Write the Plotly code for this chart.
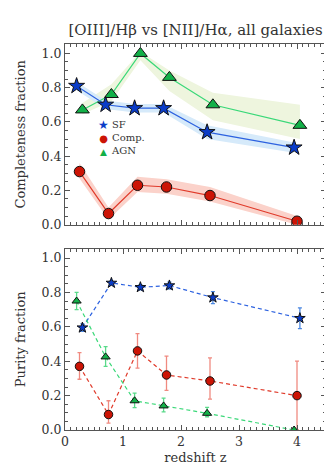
import plotly.graph_objects as go
from plotly.subplots import make_subplots

# ---------------- data ----------------
# Top panel: completeness fraction
z_sf_c = [0.20, 0.70, 1.20, 1.70, 2.45, 3.95]
sf_c = [0.81, 0.70, 0.68, 0.68, 0.54, 0.45]
sf_c_lo = [0.785, 0.675, 0.655, 0.655, 0.50, 0.42]
sf_c_hi = [0.835, 0.725, 0.705, 0.705, 0.58, 0.48]

z_comp_c = [0.25, 0.75, 1.25, 1.75, 2.50, 4.00]
comp_c = [0.31, 0.065, 0.23, 0.22, 0.17, 0.02]
comp_c_lo = [0.27, 0.03, 0.19, 0.18, 0.135, 0.0]
comp_c_hi = [0.36, 0.10, 0.28, 0.265, 0.22, 0.05]

z_agn_c = [0.30, 0.80, 1.30, 1.80, 2.55, 4.05]
agn_c = [0.67, 0.76, 1.00, 0.86, 0.70, 0.58]
agn_c_lo = [0.645, 0.72, 0.96, 0.78, 0.61, 0.50]
agn_c_hi = [0.71, 0.82, 1.01, 0.90, 0.77, 0.70]

# Bottom panel: purity fraction
z_sf_p = [0.30, 0.80, 1.30, 1.80, 2.55, 4.05]
sf_p = [0.595, 0.855, 0.83, 0.84, 0.77, 0.65]
sf_p_err = [0.022, 0.012, 0.015, 0.02, 0.035, 0.06]

z_comp_p = [0.25, 0.75, 1.25, 1.75, 2.50, 4.00]
comp_p = [0.37, 0.09, 0.46, 0.32, 0.285, 0.20]
comp_p_up = [0.08, 0.08, 0.10, 0.11, 0.135, 0.20]
comp_p_dn = [0.075, 0.05, 0.10, 0.09, 0.105, 0.20]

z_agn_p = [0.20, 0.70, 1.20, 1.70, 2.45, 3.95]
agn_p = [0.75, 0.425, 0.17, 0.14, 0.097, 0.0]
agn_p_up = [0.05, 0.06, 0.045, 0.045, 0.035, 0.0]
agn_p_dn = [0.05, 0.055, 0.04, 0.035, 0.02, 0.0]

title_text = "[OIII]/Hβ vs [NII]/Hα, all galaxies"
x_ticks = [0, 1, 2, 3, 4]
y_ticks = [0.0, 0.2, 0.4, 0.6, 0.8, 1.0]
legend_labels = ["SF", "Comp.", "AGN"]

# ---------------- style ----------------
FONT = "DejaVu Serif"
BLUE_FILL = "#0a3cc8"
BLUE_LINE = "#2d62e0"
BLUE_BAND = "#d6eafa"
BLUE_ERR = "#4a86e0"
RED_FILL = "#cc1405"
RED_LINE = "#e03a2a"
RED_BAND = "#fbd2ca"
RED_ERR = "#f08a80"
GREEN_FILL = "#12b048"
GREEN_LINE = "#3ad878"
GREEN_BAND = "#eef5de"
GREEN_ERR = "#5ada8a"

fig = make_subplots(rows=2, cols=1, shared_xaxes=False, vertical_spacing=0.0)


def band(x, lo, hi, color, row):
    fig.add_trace(go.Scatter(x=x, y=lo, mode="lines", line=dict(width=0),
                             showlegend=False, hoverinfo="skip"), row=row, col=1)
    fig.add_trace(go.Scatter(x=x, y=hi, mode="lines", line=dict(width=0),
                             fill="tonexty", fillcolor=color,
                             showlegend=False, hoverinfo="skip"), row=row, col=1)


band(z_agn_c, agn_c_lo, agn_c_hi, GREEN_BAND, 1)
band(z_sf_c, sf_c_lo, sf_c_hi, BLUE_BAND, 1)
band(z_comp_c, comp_c_lo, comp_c_hi, RED_BAND, 1)

outline = dict(color="#111111", width=1)

fig.add_trace(go.Scatter(x=z_agn_c, y=agn_c, mode="lines+markers", name="AGN",
                         line=dict(color=GREEN_LINE, width=1.2),
                         marker=dict(symbol="triangle-up", size=12, color=GREEN_FILL, line=outline),
                         showlegend=False), row=1, col=1)
fig.add_trace(go.Scatter(x=z_sf_c, y=sf_c, mode="lines+markers", name="SF",
                         line=dict(color=BLUE_LINE, width=1.2),
                         marker=dict(symbol="star", size=12, color=BLUE_FILL, line=outline),
                         showlegend=False), row=1, col=1)
fig.add_trace(go.Scatter(x=z_comp_c, y=comp_c, mode="lines+markers", name="Comp.",
                         line=dict(color=RED_LINE, width=1.2),
                         marker=dict(symbol="circle", size=10.5, color=RED_FILL, line=outline),
                         showlegend=False), row=1, col=1)

dash = "4px,3px"
fig.add_trace(go.Scatter(x=z_sf_p, y=sf_p, mode="lines+markers",
                         line=dict(color=BLUE_LINE, width=1.2, dash=dash),
                         error_y=dict(type="data", array=sf_p_err, color=BLUE_ERR, thickness=1.3, width=2),
                         marker=dict(symbol="star", size=8, color=BLUE_FILL, line=outline),
                         showlegend=False), row=2, col=1)
fig.add_trace(go.Scatter(x=z_comp_p, y=comp_p, mode="lines+markers",
                         line=dict(color=RED_LINE, width=1.2, dash=dash),
                         error_y=dict(type="data", array=comp_p_up, arrayminus=comp_p_dn,
                                      color=RED_ERR, thickness=1.3, width=2),
                         marker=dict(symbol="circle", size=8.5, color=RED_FILL, line=outline),
                         showlegend=False), row=2, col=1)
fig.add_trace(go.Scatter(x=z_agn_p, y=agn_p, mode="lines+markers",
                         line=dict(color=GREEN_LINE, width=1.2, dash=dash),
                         error_y=dict(type="data", array=agn_p_up, arrayminus=agn_p_dn,
                                      color=GREEN_ERR, thickness=1.3, width=2),
                         marker=dict(symbol="triangle-up", size=8, color=GREEN_FILL, line=outline),
                         showlegend=False), row=2, col=1)

axis_common = dict(showline=True, mirror="ticks", linecolor="#555555", linewidth=1,
                   ticks="inside", ticklen=5, tickcolor="#555555", tickwidth=1,
                   showgrid=False, zeroline=False,
                   tickfont=dict(family=FONT, size=12.5, color="#333333"))

fig.update_xaxes(range=[0, 4.5], tickvals=x_ticks,
                 minor=dict(dtick=0.1, ticks="inside", ticklen=3, tickcolor="#555555"),
                 **axis_common)
fig.update_xaxes(showticklabels=False, row=1, col=1)
fig.update_xaxes(title=dict(text="redshift z", font=dict(family=FONT, size=13, color="#333333"),
                            standoff=4), row=2, col=1)
fig.update_yaxes(range=[0, 1.055], tickvals=y_ticks, tickformat=".1f",
                 minor=dict(dtick=0.05, ticks="inside", ticklen=3, tickcolor="#555555"),
                 **axis_common)
fig.update_yaxes(title=dict(text="Completeness fraction", font=dict(family=FONT, size=13, color="#333333"),
                            standoff=13), row=1, col=1)
fig.update_yaxes(title=dict(text="Purity fraction", font=dict(family=FONT, size=13, color="#333333"),
                            standoff=13), row=2, col=1)

fig.update_layout(
    width=332, height=466,
    margin=dict(l=55, r=14, t=36, b=42),
    paper_bgcolor="white", plot_bgcolor="white",
    title=dict(text=title_text, x=0.5, xref="paper", y=0.953, yref="container",
               yanchor="middle", font=dict(family=FONT, size=15, color="#333333")),
)
fig.layout.yaxis.domain = [0.532, 1.0]
fig.layout.yaxis2.domain = [0.0, 0.470]

# legend key (two text columns: symbols and labels)
sym_text = "<br>".join([
    f"<span style='color:{BLUE_FILL};font-size:12px'>★</span>",
    f"<span style='color:{RED_FILL};font-size:10px'>●</span>",
    f"<span style='color:{GREEN_FILL};font-size:9px'>▲</span>",
])
lab_text = "<br>".join(legend_labels)
leg_y = (424.4 - 130) / 388.7
fig.add_annotation(x=0.146, y=leg_y, xref="paper", yref="paper", text=sym_text, showarrow=False,
                   xanchor="center", yanchor="middle", borderpad=0, align="center",
                   font=dict(family=FONT, size=10, color="#333333"))
fig.add_annotation(x=0.172, y=leg_y, xref="paper", yref="paper", text=lab_text, showarrow=False,
                   xanchor="left", yanchor="middle", borderpad=0, align="left",
                   font=dict(family=FONT, size=10, color="#333333"))

fig.write_html("out.html")
